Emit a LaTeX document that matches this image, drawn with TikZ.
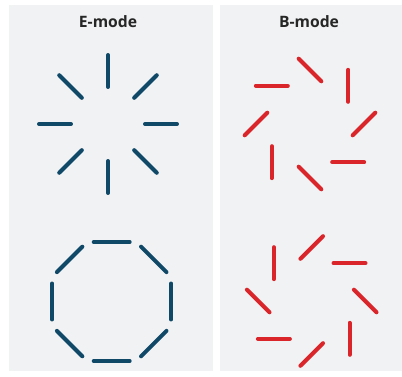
\documentclass[tikz,border=0pt]{standalone}
\usepackage{fontspec}
\setmainfont{Open Sans}
\usepackage{tikz}
\usepackage{xcolor}
\usetikzlibrary{calc}
\definecolor{cPanel}{RGB}{241,242,243}
\definecolor{cEmode}{RGB}{16,72,104}
\definecolor{cBmode}{RGB}{218,37,42}
\tikzset{
	panel/.style   ={fill=cPanel, draw=none},
	modetitle/.style={font=\fontsize{13.4}{15}\selectfont\bfseries, text=black!85},
	estick/.style  ={draw=cEmode, line width=3.4pt, line cap=round},
	bstick/.style  ={draw=cBmode, line width=3.4pt, line cap=round},
}
% one stick of length 2*#5 at angle #3 from centre #1, radius #2, turned by #4
\newcommand{\polstick}[6]{%
	\draw[#6] ($(#1)+(#3:#2)+(#3+#4:#5)$) -- ($(#1)+(#3:#2)-(#3+#4:#5)$);}

\begin{document}
\begin{tikzpicture}[x=0.3mm, y=0.3mm]
					\useasboundingbox (0,0) rectangle (402,376);
					% ---------- panels ----------
					\fill[panel] (9,5) rectangle (213,371);
					\fill[panel] (220,5) rectangle (402,371);
					\node[modetitle] (etitle) at (108,354) {E-mode};
					\node[modetitle] (btitle) at (309,354) {B-mode};
					% ---------- E-mode: radial and tangential ----------
					\coordinate (estar) at (108,252);
					\coordinate (ering) at (111.7,74.5);
					\foreach \a in {0,45,...,315} {
						\polstick{estar}{53}{\a}{0}{16}{estick}
						\polstick{ering}{59.5}{\a}{90}{18}{estick}
					}
					% ---------- B-mode: turned by +45 and -45 ----------
					\coordinate (bcurlA) at (310,252);
					\coordinate (bcurlB) at (311.7,75);
					\foreach \a in {0,45,...,315} {
						\polstick{bcurlA}{54}{\a}{45}{16}{bstick}
						\polstick{bcurlB}{53.5}{\a}{-45}{16}{bstick}
					}
				\end{tikzpicture}
\end{document}
